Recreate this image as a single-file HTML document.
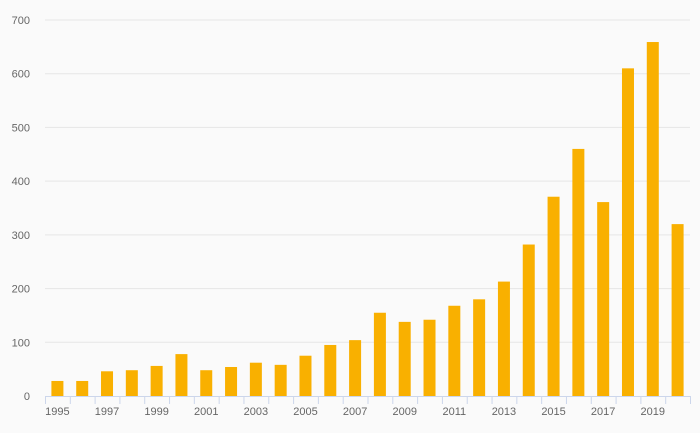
<!DOCTYPE html>
<html><head><meta charset="utf-8"><style>
html,body{margin:0;padding:0;background:#fafafa;}
svg{display:block;font-family:"Liberation Sans",sans-serif;}
</style></head><body>
<svg id="chart" width="700" height="433">
<rect width="700" height="433" fill="#fafafa"/>
<g id="grid"></g><g id="bars"></g><g id="xaxis"></g><g id="yaxis"></g>
</svg>
<script>
const years = [1995,1996,1997,1998,1999,2000,2001,2002,2003,2004,2005,2006,2007,2008,2009,2010,2011,2012,2013,2014,2015,2016,2017,2018,2019,2020];
const values = [28,28,46,48,56,78,48,54,62,58,75,95,104,155,138,142,168,180,213,282,371,460,361,610,659,320];
const yTicks = [0,100,200,300,400,500,600,700];
const NS="http://www.w3.org/2000/svg";
const x0=45,x1=690,yBase=396,yTop=20,yMax=700;
const band=(x1-x0)/years.length;
const y=v=>yBase-(v/yMax)*(yBase-yTop);
const xs=i=>x0+i*band;
function mk(t,a,p){const e=document.createElementNS(NS,t);for(const k in a)e.setAttribute(k,a[k]);p.appendChild(e);return e;}
const grid=document.getElementById('grid'),yax=document.getElementById('yaxis'),bars=document.getElementById('bars'),xax=document.getElementById('xaxis');
yTicks.forEach(v=>{
 if(v>0){const l=mk('line',{x1:x0,x2:x1,y1:y(v),y2:y(v),stroke:'#e6e6e6','stroke-width':1},grid);
 
 }
 const t=mk('text',{x:30,y:y(v)+4,'text-anchor':'end','font-size':11,fill:'#666'},yax);
 t.textContent=v;
 
 
});
values.forEach((v,i)=>{
 const r=mk('rect',{x:xs(i)+band/2-6,y:y(v),width:12,height:yBase-y(v),fill:'#f9b000'},bars);
 
 
});
const ax=mk('line',{x1:x0,x2:x1,y1:yBase+0.5,y2:yBase+0.5,stroke:'#ccd6eb','stroke-width':1},xax);


for(let i=0;i<=years.length;i++){
 const tk=mk('line',{x1:xs(i)+0.5,x2:xs(i)+0.5,y1:yBase,y2:yBase+8,stroke:'#ccd6eb','stroke-width':1},xax);
 
 
}
years.forEach((yr,i)=>{
 if(i%2!==0)return;
 const t=mk('text',{x:xs(i)+band/2,y:415,'text-anchor':'middle','font-size':11,fill:'#666'},xax);
 t.textContent=yr;
 
 
});
</script>
</body></html>
